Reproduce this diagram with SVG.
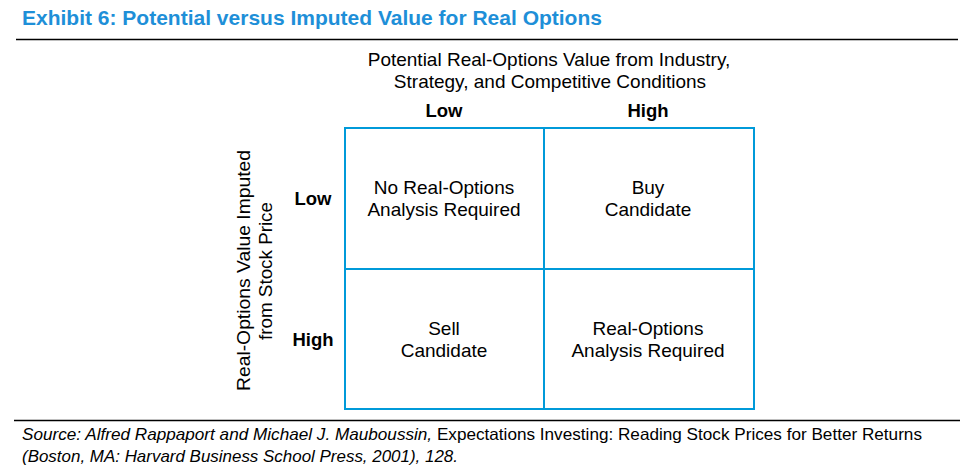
<svg xmlns="http://www.w3.org/2000/svg" width="972" height="468" viewBox="0 0 972 468">
<style>
text{font-family:"Liberation Sans",Arial,sans-serif;fill:#000}
.t{font-size:19px}
.b{font-size:18.5px;font-weight:bold}
.c{text-anchor:middle}
.grid{fill:none;stroke:#009ad9;stroke-width:2}
.rule{stroke:#000;stroke-width:1.3}
.src{font-size:16.5px}
</style>
<rect width="972" height="468" fill="#fff"/>
<text x="22" y="25" style="font-size:21px;font-weight:bold;fill:#1e8fd8">Exhibit 6: Potential versus Imputed Value for Real Options</text>
<line class="rule" x1="16" y1="39.5" x2="958" y2="39.5"/>
<g id="axis-top">
<text class="t c" x="549" y="66">Potential Real-Options Value from Industry,</text>
<text class="t c" x="550" y="88">Strategy, and Competitive Conditions</text>
<text class="b c" x="444" y="117">Low</text>
<text class="b c" x="648" y="117">High</text>
</g>
<g id="axis-left">
<text class="t c" transform="translate(250 270.5) rotate(-90)" textLength="241" lengthAdjust="spacingAndGlyphs">Real-Options Value Imputed</text>
<text class="t c" transform="translate(272 271) rotate(-90)" textLength="138" lengthAdjust="spacingAndGlyphs">from Stock Price</text>
<text class="b c" x="313" y="205">Low</text>
<text class="b c" x="313" y="346">High</text>
</g>
<g id="connectors">
<rect class="grid" x="345" y="128" width="409" height="281"/>
<line class="grid" x1="544" y1="128" x2="544" y2="409"/>
<line class="grid" x1="345" y1="269" x2="754" y2="269"/>
</g>
<g id="cell-low-low">
<text class="t c" x="444" y="194">No Real-Options</text>
<text class="t c" x="444" y="216">Analysis Required</text>
</g>
<g id="cell-low-high">
<text class="t c" x="648" y="194">Buy</text>
<text class="t c" x="648" y="216">Candidate</text>
</g>
<g id="cell-high-low">
<text class="t c" x="444" y="335">Sell</text>
<text class="t c" x="444" y="357">Candidate</text>
</g>
<g id="cell-high-high">
<text class="t c" x="648" y="335">Real-Options</text>
<text class="t c" x="648" y="357">Analysis Required</text>
</g>
<line class="rule" x1="14" y1="420.5" x2="960" y2="420.5"/>
<text class="src" x="22" y="440" textLength="900" lengthAdjust="spacingAndGlyphs"><tspan font-style="italic">Source: Alfred Rappaport and Michael J. Mauboussin,</tspan> Expectations Investing: Reading Stock Prices for Better Returns</text>
<text class="src" x="22" y="462" textLength="436" lengthAdjust="spacingAndGlyphs" font-style="italic">(Boston, MA: Harvard Business School Press, 2001), 128.</text>
</svg>
